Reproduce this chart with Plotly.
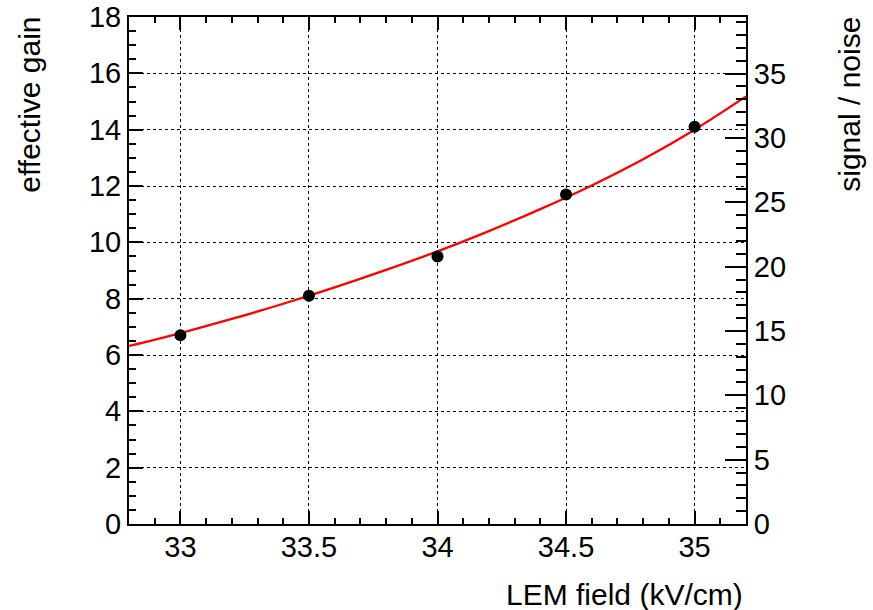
import plotly.graph_objects as go

# measured points
field = [33.0, 33.5, 34.0, 34.5, 35.0]
gain = [6.7, 8.1, 9.5, 11.7, 14.1]

# fit curve
fit_x = [32.8, 33.0, 33.2, 33.4, 33.6, 33.8, 34.0, 34.2, 34.4, 34.6, 34.8, 35.0, 35.2]
fit_y = [6.32, 6.78, 7.28, 7.82, 8.40, 9.02, 9.68, 10.40, 11.18, 12.02, 12.95, 14.00, 15.18]

x_ticks = [33, 33.5, 34, 34.5, 35]
x_labels = ["33", "33.5", "34", "34.5", "35"]

FONT = "Liberation Sans, Arial, sans-serif"
TICKFONT = dict(family=FONT, size=29, color="black")

fig = go.Figure()
fig.add_trace(go.Scatter(x=fit_x, y=fit_y, mode="lines", line=dict(color="#ff0000", width=2.3, shape="spline"),
                         showlegend=False, hoverinfo="skip"))
fig.add_trace(go.Scatter(x=field, y=gain, mode="markers", marker=dict(color="black", size=12),
                         showlegend=False))
fig.add_trace(go.Scatter(x=[None], y=[None], yaxis="y2", showlegend=False, hoverinfo="skip"))

fig.update_layout(
    width=873, height=610,
    margin=dict(l=129, r=127, t=17, b=86),
    paper_bgcolor="white", plot_bgcolor="white",
    font=dict(family=FONT, size=29, color="black"),
    xaxis=dict(range=[32.8, 35.2], tickvals=x_ticks, ticktext=x_labels, tickfont=TICKFONT,
               ticks="inside", ticklen=13, tickwidth=1.5, tickcolor="black",
               minor=dict(dtick=0.1, tick0=33, ticks="inside", ticklen=6, tickwidth=1.5, tickcolor="black", showgrid=False),
               showline=True, linecolor="black", linewidth=2, mirror="ticks",
               showgrid=True, gridcolor="black", griddash="dot", gridwidth=1,
               zeroline=False, automargin=False, ticklabelstandoff=-4),
    yaxis=dict(range=[0, 18], dtick=2, tick0=0, tickfont=TICKFONT,
               ticks="inside", ticklen=14, tickwidth=1.5, tickcolor="black",
               minor=dict(dtick=0.5, ticks="inside", ticklen=7, tickwidth=1.5, tickcolor="black", showgrid=False),
               showline=True, linecolor="black", linewidth=2, mirror=True,
               showgrid=True, gridcolor="black", griddash="dot", gridwidth=1,
               zeroline=False, automargin=False),
    yaxis2=dict(range=[0, 39.4], dtick=5, tick0=0, overlaying="y", side="right", tickfont=TICKFONT,
                ticks="inside", ticklen=21, tickwidth=1.5, tickcolor="black",
                minor=dict(dtick=1, ticks="inside", ticklen=10, tickwidth=1.5, tickcolor="black", showgrid=False),
                showline=True, linecolor="black", linewidth=2,
                showgrid=False, zeroline=False, automargin=False),
    annotations=[
        dict(text="effective gain", xref="paper", yref="paper", x=-0.1605, y=0.827, textangle=-90,
             xanchor="center", yanchor="middle", showarrow=False, font=dict(family=FONT, size=30)),
        dict(text="signal / noise", xref="paper", yref="paper", x=1.1686, y=0.827, textangle=-90,
             xanchor="center", yanchor="middle", showarrow=False, font=dict(family=FONT, size=30)),
        dict(text="LEM field (kV/cm)", xref="paper", yref="paper", x=0.998, y=-0.140,
             xanchor="right", yanchor="middle", showarrow=False, font=dict(family=FONT, size=30)),
    ],
)

fig.write_html("out.html")
